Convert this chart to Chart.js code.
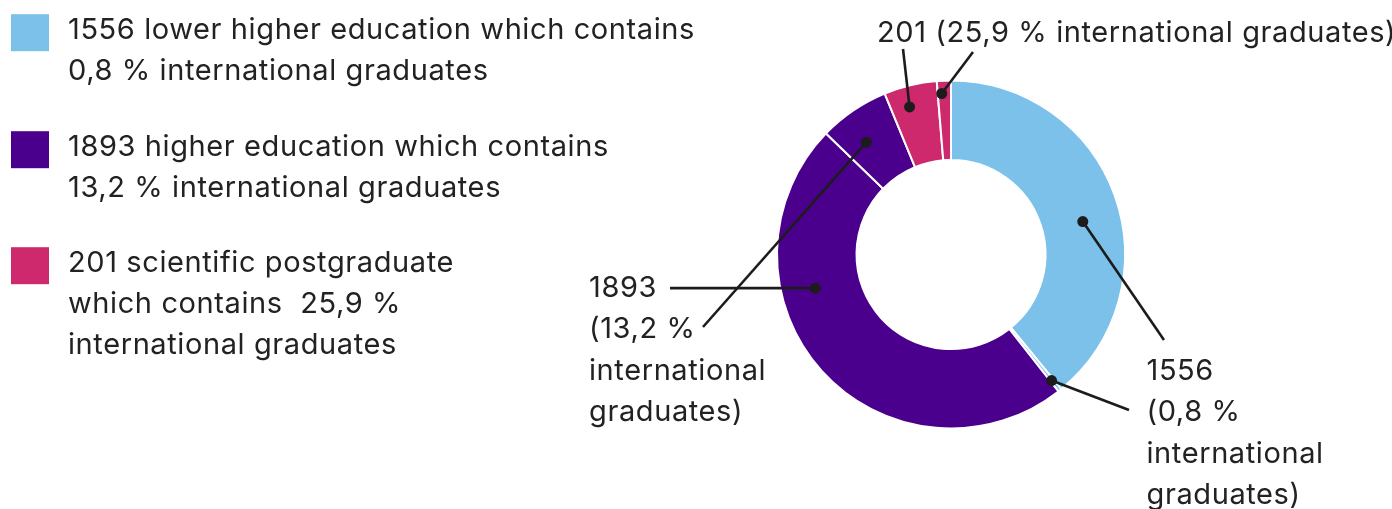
<!DOCTYPE html>
<html>
<head>
<meta charset="utf-8">
<script src="https://cdn.jsdelivr.net/npm/chart.js@4.4.1/dist/chart.umd.min.js"></script>
<style>
  html, body { margin: 0; padding: 0; background: #fff; }
  canvas { display: block; }
</style>
</head>
<body>
<canvas id="myChart" width="1392" height="509"></canvas>
<script>
// groups shown in the legend
const groups = ['lower higher education', 'higher education', 'scientific postgraduate'];
const groupTotals = [1556, 1893, 201];
const intlShares = ['0,8', '13,2', '25,9'];
const groupColors = ['#7bc1ea', '#4b008d', '#cf296d'];

// ring slices clockwise from 12 o'clock (size of each arc as drawn, in degrees)
const sliceLabels = [
    'lower higher education, domestic', 'lower higher education, international',
    'higher education, domestic', 'higher education, international',
    'scientific postgraduate, domestic', 'scientific postgraduate, international'
];
const sliceValues = [140.7, 1.2, 172.2, 23.5, 17.7, 4.7];
const sliceGroup = [0, 0, 1, 1, 2, 2];

// legend text, one entry per group
const legendLines = [
    ['1556 lower higher education which contains', '0,8 % international graduates'],
    ['1893 higher education which contains', '13,2 % international graduates'],
    ['201 scientific postgraduate', 'which contains  25,9 %', 'international graduates']
];

// callout text next to the ring
const calloutTop = ['201 (25,9 % international graduates)'];
const calloutLeft = ['1893', '(13,2 %', 'international', 'graduates)'];
const calloutRight = ['1556', '(0,8 %', 'international', 'graduates)'];

const FONT = '29px Inter, "Noto Sans", sans-serif';
const INK = '#222222';

// where each marker sits inside its slice (fraction along the arc, fraction out from the hole)
// and where its leader line ends
const markers = [
    { slice: 0, along: 0.54, out: 0.52, to: [1164, 340] },
    { slice: 1, along: 0.6, out: 0.84, to: [1129, 410] },
    { slice: 2, along: 0.663, out: 0.57, to: [670, null] },
    { slice: 3, along: 0.38, out: 0.58, to: [703, 327] },
    { slice: 4, along: 0.38, out: 0.74, to: [903, 49] },
    { slice: 5, along: 0.3, out: 0.84, to: [973, 52] }
];

const calloutPlugin = {
    id: 'callouts',
    afterDraw(chart) {
        const ctx = chart.ctx;
        const arcs = chart.getDatasetMeta(0).data;
        ctx.save();

        // legend
        ctx.font = FONT;
        ctx.letterSpacing = '0.6px';
        ctx.fillStyle = INK;
        ctx.textBaseline = 'alphabetic';
        const legendTops = [38.7, 155.7, 271.7];
        legendLines.forEach((lines, i) => {
            ctx.fillStyle = groupColors[i];
            ctx.fillRect(11, legendTops[i] - 24.5, 38, 37);
            ctx.fillStyle = INK;
            lines.forEach((t, j) => ctx.fillText(t, 68, legendTops[i] + j * 41.2));
        });

        // leader lines and dots
        ctx.strokeStyle = '#1c1c1c';
        ctx.fillStyle = '#1c1c1c';
        ctx.lineWidth = 2.6;
        markers.forEach(m => {
            const a = arcs[m.slice].getProps(['x', 'y', 'startAngle', 'endAngle', 'innerRadius', 'outerRadius']);
            const ang = a.startAngle + (a.endAngle - a.startAngle) * m.along;
            const r = a.innerRadius + (a.outerRadius - a.innerRadius) * m.out;
            const px = a.x + Math.cos(ang) * r;
            const py = a.y + Math.sin(ang) * r;
            const ty = m.to[1] === null ? py : m.to[1];
            ctx.beginPath();
            ctx.moveTo(px, py);
            ctx.lineTo(m.to[0], ty);
            ctx.stroke();
            ctx.beginPath();
            ctx.arc(px, py, 5.5, 0, Math.PI * 2);
            ctx.fill();
        });

        // callout text
        ctx.fillStyle = INK;
        ctx.fillText(calloutTop[0], 877, 41.7);
        calloutLeft.forEach((t, j) => ctx.fillText(t, 589, 297 + j * 41.4));
        calloutRight.forEach((t, j) => ctx.fillText(t, 1146.5, 380 + j * 41.4));

        ctx.restore();
    }
};

new Chart(document.getElementById('myChart'), {
    type: 'doughnut',
    data: {
        labels: sliceLabels,
        datasets: [{
            data: sliceValues,
            backgroundColor: sliceGroup.map(g => groupColors[g]),
            borderColor: '#ffffff',
            borderWidth: 2
        }]
    },
    options: {
        responsive: false,
        animation: false,
        radius: 174,
        cutout: '54.3%',
        layout: {
            padding: { left: 778, right: 268, top: 81, bottom: 81 }
        },
        plugins: {
            legend: { display: false },
            tooltip: { enabled: false }
        }
    },
    plugins: [calloutPlugin]
});
</script>
</body>
</html>
